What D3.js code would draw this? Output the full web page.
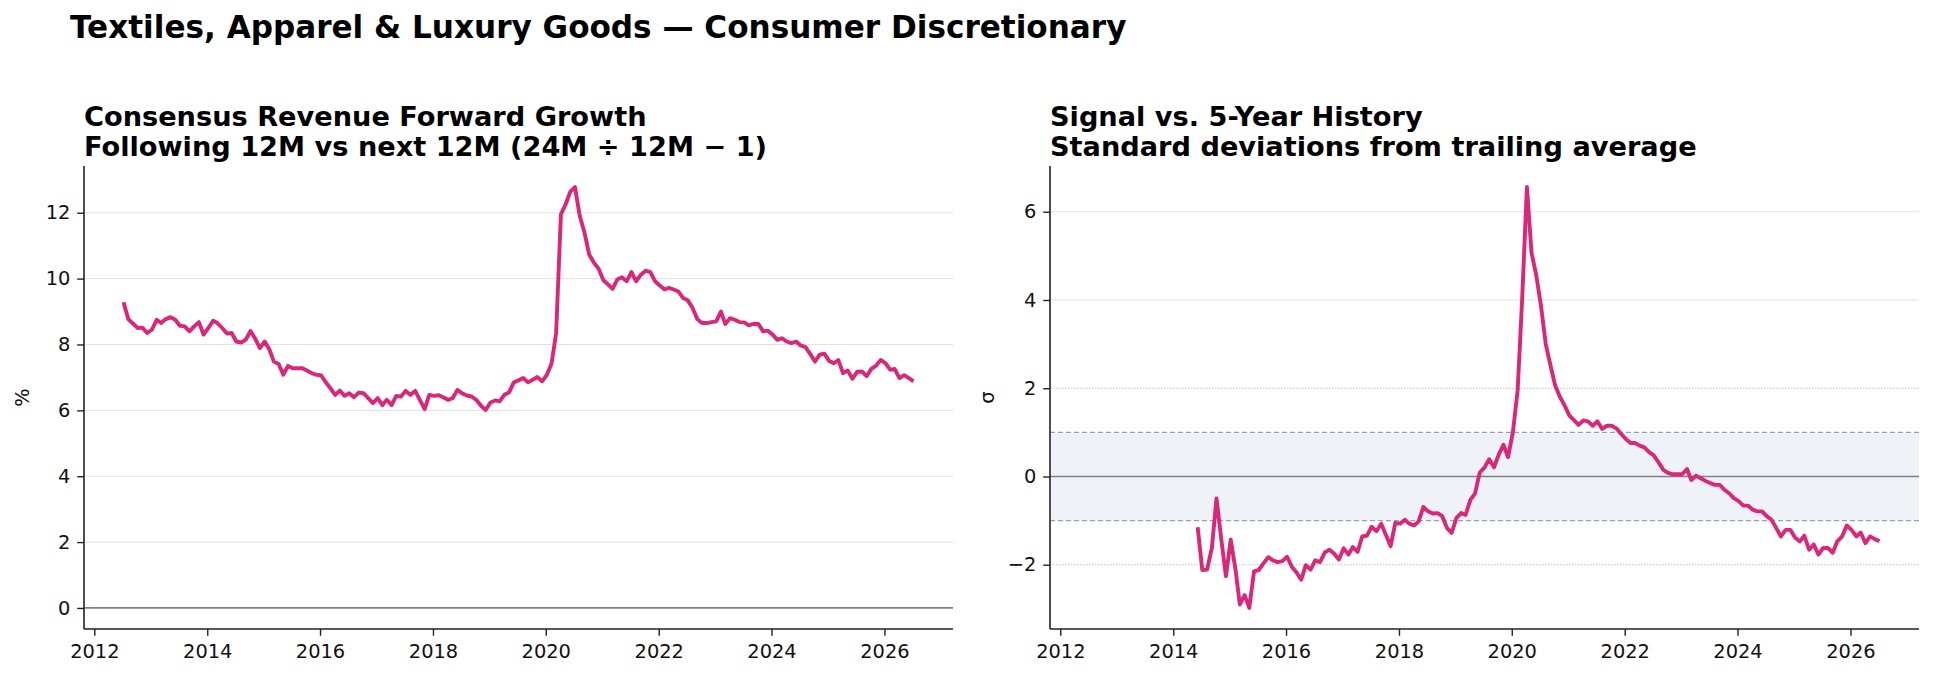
<!DOCTYPE html>
<html><head><meta charset="utf-8">
<script src="https://cdn.jsdelivr.net/npm/d3@7"></script>
<style>body{margin:0;background:#fff;} svg{display:block;font-family:"DejaVu Sans",sans-serif;}</style>
</head><body><svg id="c" width="1934" height="679"></svg>
<script>
// ---- data ----
const figTitle = "Textiles, Apparel & Luxury Goods \u2014 Consumer Discretionary";
const leftTitle = ["Consensus Revenue Forward Growth", "Following 12M vs next 12M (24M \u00f7 12M \u2212 1)"];
const rightTitle = ["Signal vs. 5-Year History", "Standard deviations from trailing average"];
const leftYLabel = "%";
const rightYLabel = "\u03c3";
const growthStart = [2012, 6];   // Jul 2012
const growthValues = [
  9.28, 8.77, 8.63, 8.50, 8.51, 8.35,
  8.45, 8.75, 8.65, 8.77, 8.83, 8.75, 8.57, 8.55, 8.40, 8.55, 8.68, 8.30,
  8.50, 8.72, 8.65, 8.50, 8.33, 8.35, 8.09, 8.06, 8.15, 8.41, 8.17, 7.89,
  8.09, 7.84, 7.48, 7.41, 7.08, 7.35, 7.28, 7.28, 7.28, 7.21, 7.13, 7.08,
  7.06, 6.85, 6.67, 6.47, 6.60, 6.44, 6.52, 6.40, 6.54, 6.52, 6.37, 6.22,
  6.37, 6.16, 6.32, 6.16, 6.44, 6.42, 6.59, 6.47, 6.59, 6.32, 6.04, 6.47,
  6.44, 6.46, 6.40, 6.32, 6.37, 6.62, 6.52, 6.45, 6.42, 6.32, 6.14, 6.01,
  6.24, 6.30, 6.27, 6.47, 6.54, 6.85, 6.91, 6.98, 6.85, 6.93, 7.01, 6.88,
  7.08, 7.43, 8.35, 11.95, 12.25, 12.64, 12.78, 11.90, 11.39, 10.73, 10.48, 10.30,
  9.95, 9.82, 9.69, 9.97, 10.04, 9.92, 10.20, 9.92, 10.12, 10.24, 10.20, 9.92,
  9.79, 9.67, 9.72, 9.67, 9.61, 9.41, 9.34, 9.11, 8.77, 8.65, 8.65, 8.68,
  8.70, 9.00, 8.62, 8.80, 8.75, 8.68, 8.67, 8.58, 8.63, 8.62, 8.40, 8.42,
  8.30, 8.14, 8.19, 8.09, 8.04, 8.09, 7.97, 7.92, 7.71, 7.48, 7.69, 7.72,
  7.50, 7.43, 7.53, 7.13, 7.21, 6.96, 7.17, 7.18, 7.04, 7.26, 7.36, 7.53,
  7.43, 7.23, 7.26, 6.98, 7.07, 6.98, 6.88
];
const zStart = [2014, 5];   // Jun 2014
const zValues = [
  -1.15, -2.12, -2.11, -1.62, -0.50, -1.43, -2.26, -1.43, -2.11, -2.90, -2.69, -2.98,
  -2.15, -2.12, -1.97, -1.83, -1.90, -1.94, -1.92, -1.82, -2.05, -2.17, -2.34, -2.01,
  -2.11, -1.90, -1.94, -1.72, -1.66, -1.75, -1.88, -1.63, -1.77, -1.60, -1.71, -1.36,
  -1.34, -1.14, -1.24, -1.07, -1.32, -1.58, -1.05, -1.07, -0.98, -1.07, -1.11, -1.02,
  -0.69, -0.79, -0.84, -0.83, -0.90, -1.17, -1.28, -0.94, -0.83, -0.87, -0.53, -0.39,
  0.09, 0.20, 0.39, 0.21, 0.49, 0.72, 0.44, 1.00, 1.95, 4.00,
  6.56, 5.07, 4.55, 3.87, 3.00, 2.51, 2.06, 1.80, 1.61, 1.38,
  1.27, 1.17, 1.27, 1.25, 1.15, 1.25, 1.08, 1.15, 1.15, 1.09,
  0.97, 0.85, 0.76, 0.76, 0.70, 0.66, 0.55, 0.48, 0.32, 0.15,
  0.08, 0.05, 0.05, 0.05, 0.17, -0.08, 0.02, -0.04, -0.10, -0.15,
  -0.19, -0.19, -0.30, -0.38, -0.49, -0.56, -0.66, -0.66, -0.75, -0.79,
  -0.79, -0.90, -0.98, -1.17, -1.36, -1.21, -1.21, -1.39, -1.47, -1.34,
  -1.66, -1.54, -1.77, -1.62, -1.62, -1.73, -1.47, -1.36, -1.11, -1.21,
  -1.36, -1.27, -1.51, -1.36, -1.42, -1.47
];
const yearTicks = [2012, 2014, 2016, 2018, 2020, 2022, 2024, 2026];
const growthTicks = [0, 2, 4, 6, 8, 10, 12];
const zTicks = [-2, 0, 2, 4, 6];
const bandLimits = [-1, 1];
const refLines = [-2, 2];

// ---- styling ----
const LINE = "#db2777";
const TICK_FS = "19.4px";
const svg = d3.select("#c");

const toSeries = (start, vals) => vals.map((v, i) => ({date: new Date(start[0], start[1] + i, 8), v}));
const gSeries = toSeries(growthStart, growthValues);
const zSeries = toSeries(zStart, zValues);

// shared x domain (matplotlib-like 5% padding)
const allDates = gSeries.map(d => +d.date);
const dMin = d3.min(allDates), dMax = d3.max(allDates), dPad = (dMax - dMin) * 0.05;
const xDomain = [new Date(dMin - dPad), new Date(dMax + dPad)];

function pad(lo, hi) { const p = (hi - lo) * 0.05; return [lo - p, hi + p]; }

svg.append("text").attr("x", 70).attr("y", 38)
  .attr("font-size", "31.1px").attr("font-weight", "bold").attr("fill", "#000")
  .text(figTitle);

function panel(o) {
  const g = svg.append("g");
  const x = d3.scaleTime().domain(xDomain).range([o.x0, o.x1]);
  const y = d3.scaleLinear().domain(o.yDomain).range([o.y1, o.y0]);

  if (o.band) {
    g.append("rect").attr("x", o.x0).attr("width", o.x1 - o.x0)
      .attr("y", y(o.band[1])).attr("height", y(o.band[0]) - y(o.band[1]))
      .attr("fill", "#eff3f8");
  }
  // grid
  g.selectAll(".grid").data(o.ticks.filter(t => t !== 0 && !(o.refs || []).includes(t)))
    .join("line").attr("x1", o.x0).attr("x2", o.x1)
    .attr("y1", d => y(d)).attr("y2", d => y(d))
    .attr("stroke", "#e1e1e9").attr("stroke-width", 1);
  if (o.refs) {
    g.selectAll(".ref").data(o.refs).join("line").attr("x1", o.x0).attr("x2", o.x1)
      .attr("y1", d => y(d)).attr("y2", d => y(d))
      .attr("stroke", "#b8c2d0").attr("stroke-width", 1).attr("stroke-dasharray", "1.5,1.5");
  }
  if (o.band) {
    g.selectAll(".bl").data(o.band).join("line").attr("x1", o.x0).attr("x2", o.x1)
      .attr("y1", d => y(d)).attr("y2", d => y(d))
      .attr("stroke", "#94a0b4").attr("stroke-width", 1.2).attr("stroke-dasharray", "5,3");
  }
  // zero line
  g.append("line").attr("x1", o.x0).attr("x2", o.x1).attr("y1", y(0)).attr("y2", y(0))
    .attr("stroke", "#7c7f8c").attr("stroke-width", 1.7);

  // series
  g.append("path").datum(o.series)
    .attr("fill", "none").attr("stroke", LINE).attr("stroke-width", 3.9)
    .attr("stroke-linejoin", "round").attr("stroke-linecap", "butt")
    .attr("d", d3.line().x(d => x(d.date)).y(d => y(d.v)));

  // axes
  const ax = g.append("g").attr("transform", `translate(0,${o.y1})`)
    .call(d3.axisBottom(x).tickValues(yearTicks.map(yr => new Date(yr, 0, 1)))
      .tickFormat(d3.timeFormat("%Y")).tickSizeOuter(0).tickSize(6.8).tickPadding(8));
  const ay = g.append("g").attr("transform", `translate(${o.x0},0)`)
    .call(d3.axisLeft(y).tickValues(o.ticks).tickFormat(d => d < 0 ? "\u2212" + Math.abs(d) : String(d))
      .tickSizeOuter(0).tickSize(6.8).tickPadding(6.8));
  [ax, ay].forEach(a => {
    a.select(".domain").attr("stroke", "#222").attr("stroke-width", 1.6);
    a.selectAll(".tick line").attr("stroke", "#222").attr("stroke-width", 1.4);
    a.selectAll(".tick text").attr("font-size", TICK_FS).attr("fill", "#111")
      .attr("font-family", "DejaVu Sans");
  });
  ax.select(".domain").attr("d", `M${o.x0},0H${o.x1}`);
  ay.select(".domain").attr("d", `M0,${o.y0}V${o.y1}`);

  // y label
  svg.append("text").attr("transform", `translate(${o.ylx},${(o.y0 + o.y1) / 2}) rotate(-90)`)
    .attr("text-anchor", "middle").attr("dy", "0.35em").attr("font-size", TICK_FS).attr("fill", "#111")
    .text(o.ylabel);

  // title
  const t = svg.append("text").attr("font-size", "27.2px").attr("font-weight", "bold").attr("fill", "#000");
  o.title.forEach((s, i) => t.append("tspan").attr("x", o.x0).attr("y", 126 + i * 29.6).text(s));
}

panel({x0: 84, x1: 953, y0: 166, y1: 629,
  yDomain: pad(Math.min(0, d3.min(growthValues)), d3.max(growthValues)),
  ticks: growthTicks, series: gSeries, ylabel: leftYLabel, ylx: 22, title: leftTitle});
panel({x0: 1050, x1: 1919, y0: 166, y1: 629,
  yDomain: pad(d3.min(zValues), d3.max(zValues)),
  ticks: zTicks, series: zSeries, ylabel: rightYLabel, ylx: 987, title: rightTitle,
  band: bandLimits, refs: refLines});
</script></body></html>
